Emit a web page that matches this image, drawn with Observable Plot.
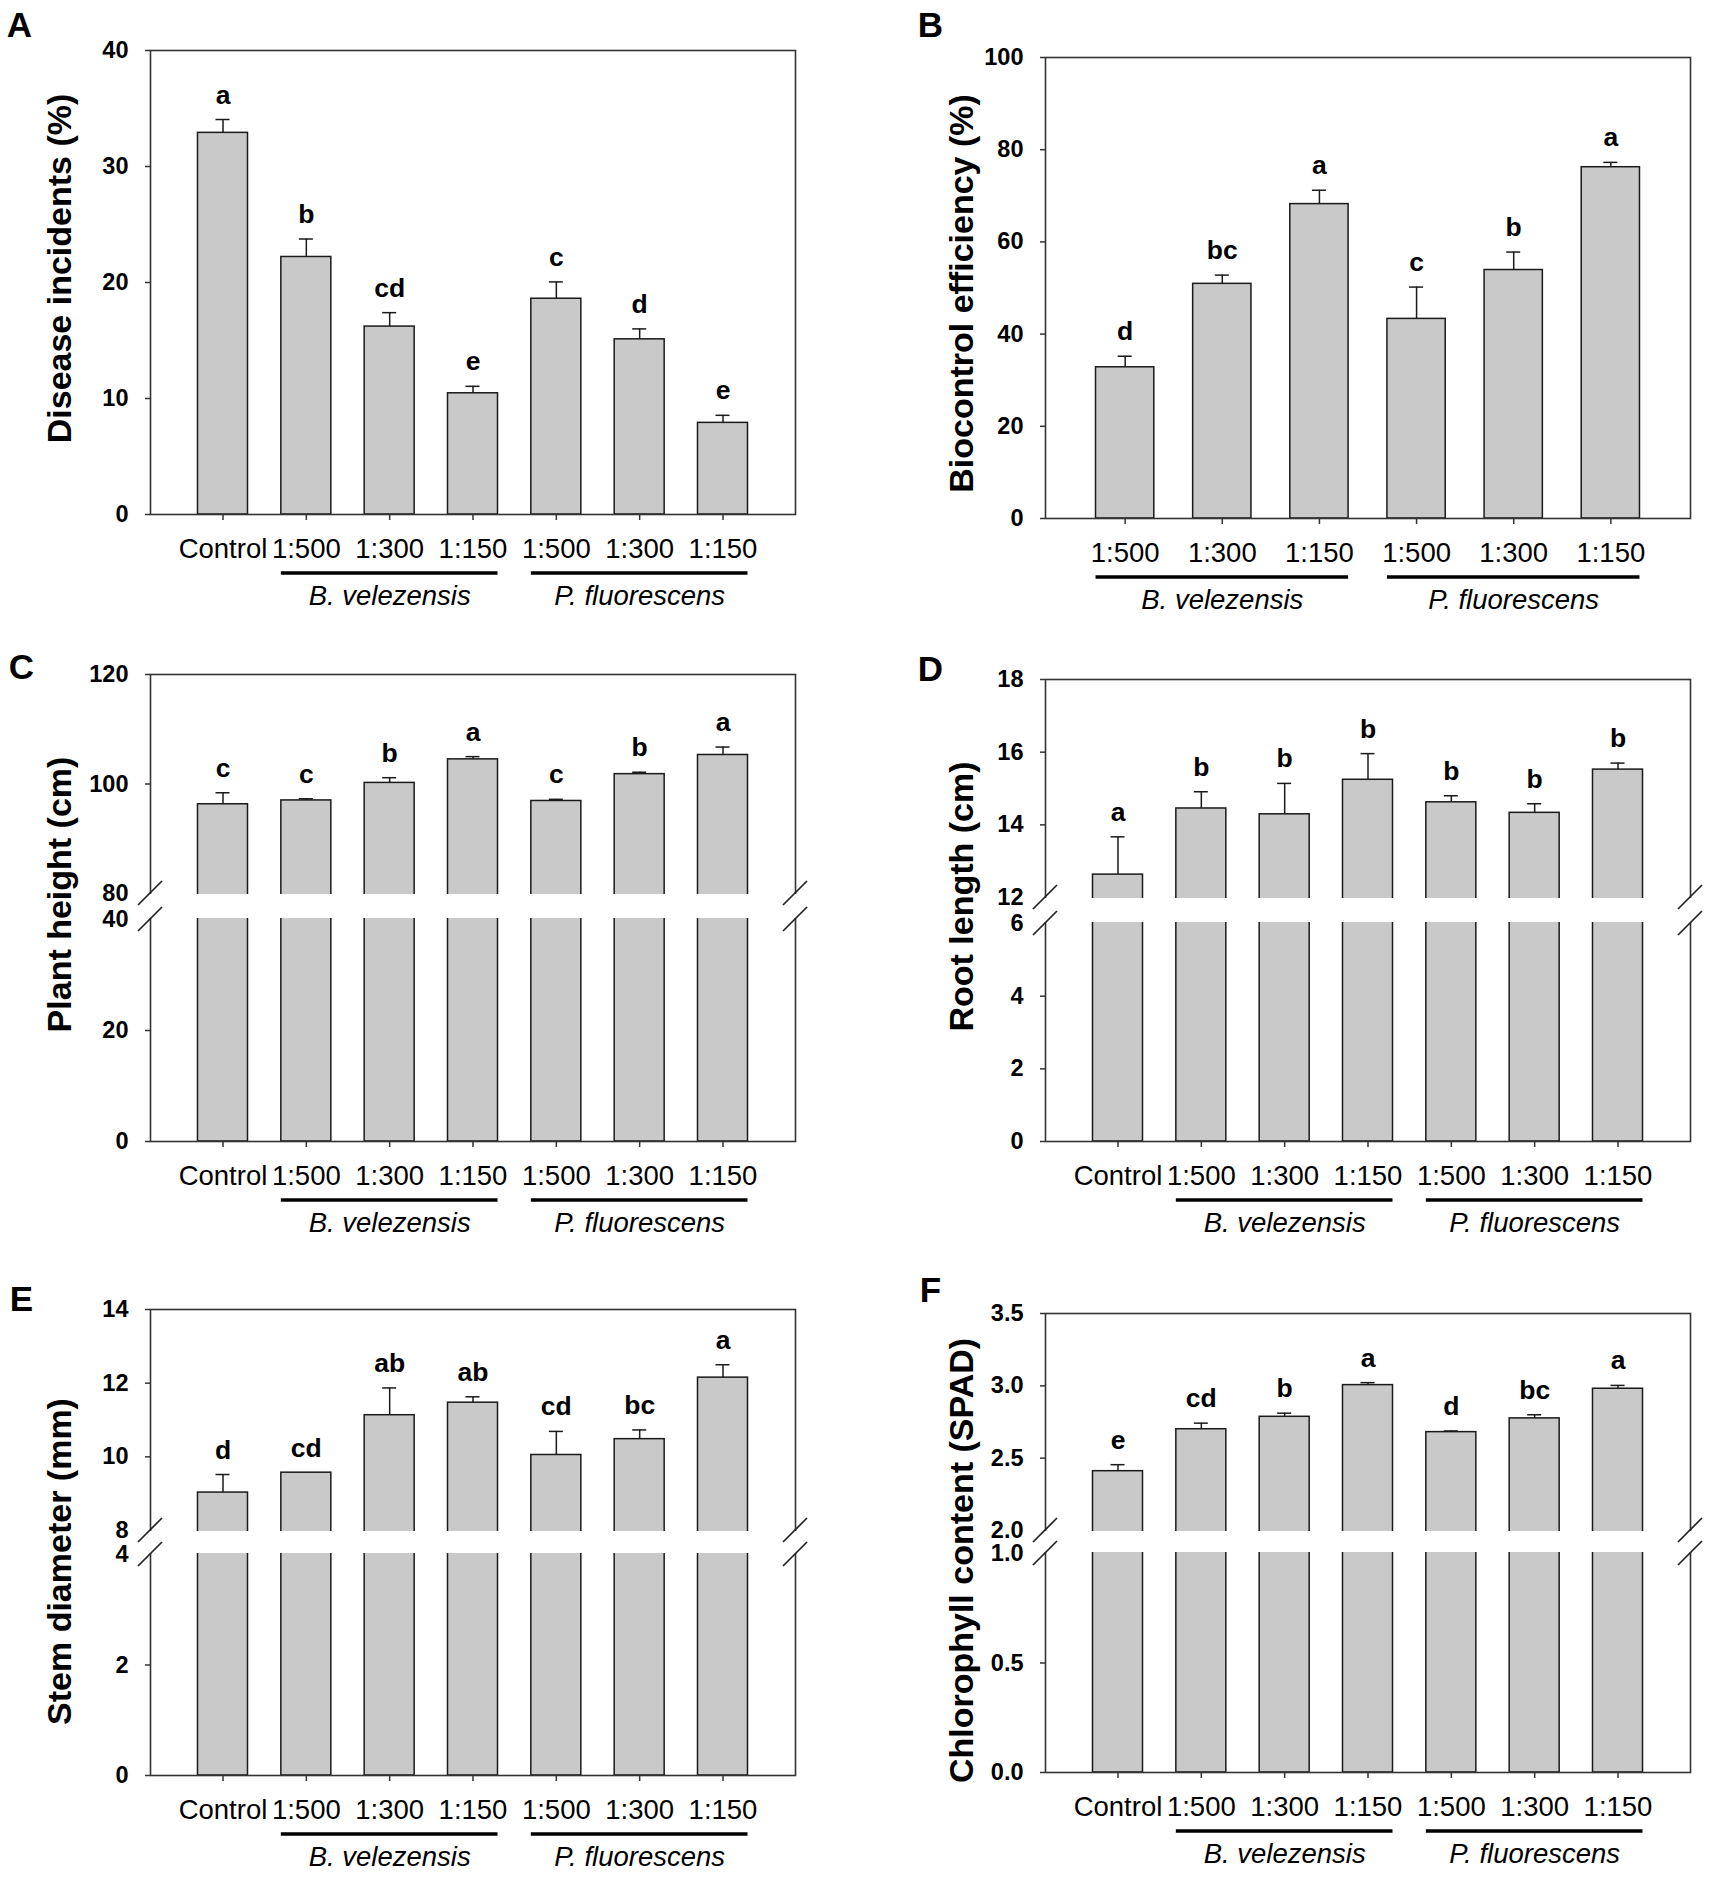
<!DOCTYPE html>
<html>
<head>
<meta charset="utf-8">
<script src="https://cdn.jsdelivr.net/npm/d3@7"></script>
<script src="https://cdn.jsdelivr.net/npm/@observablehq/plot@0.6"></script>
<style>
  body { margin: 0; background: #fff; }
  #root { position: relative; width: 1713px; height: 1887px; background: #fff; overflow: hidden; }
  #root svg { position: absolute; overflow: visible; }
</style>
</head>
<body>
<div id="root"></div>
<script>
// ---------- categories ----------
const categoryKeys = ["Control", "Bv 1:500", "Bv 1:300", "Bv 1:150", "Pf 1:500", "Pf 1:300", "Pf 1:150"];
const categoryLabels = ["Control", "1:500", "1:300", "1:150", "1:500", "1:300", "1:150"];
const groupNames = ["B. velezensis", "P. fluorescens"];
const groupFirst = ["Bv 1:500", "Pf 1:500"];
const groupMiddle = ["Bv 1:300", "Pf 1:300"];
const groupLast = ["Bv 1:150", "Pf 1:150"];

// ---------- A: disease incidents ----------
const incidenceMean = [32.9, 22.2, 16.2, 10.45, 18.6, 15.1, 7.9];
const incidenceErr = [1.15, 1.55, 1.2, 0.6, 1.45, 0.9, 0.65];
const incidenceLetters = ["a", "b", "cd", "e", "c", "d", "e"];
const incidenceTicks = [0, 10, 20, 30, 40];

// ---------- B: biocontrol efficiency ----------
const efficiencyMean = [32.8, 50.9, 68.2, 43.3, 53.9, 76.2];
const efficiencyErr = [2.4, 1.9, 3.0, 6.9, 3.9, 1.05];
const efficiencyLetters = ["d", "bc", "a", "c", "b", "a"];
const efficiencyTicks = [0, 20, 40, 60, 80, 100];

// ---------- C: plant height ----------
const heightMean = [96.3, 97.0, 100.2, 104.5, 96.9, 101.8, 105.3];
const heightErr = [2.1, 0.3, 0.95, 0.5, 0.3, 0.35, 1.45];
const heightLetters = ["c", "c", "b", "a", "c", "b", "a"];
const heightTicks = [0, 20, 40, 80, 100, 120];
const heightBreak = [40, 80];

// ---------- D: root length ----------
const rootMean = [12.63, 14.45, 14.29, 15.24, 14.62, 14.33, 15.52];
const rootErr = [1.04, 0.46, 0.85, 0.72, 0.18, 0.25, 0.18];
const rootLetters = ["a", "b", "b", "b", "b", "b", "b"];
const rootTicks = [0, 2, 4, 6, 12, 14, 16, 18];
const rootBreak = [6, 12];

// ---------- E: stem diameter ----------
const stemMean = [9.03, 9.57, 11.13, 11.47, 10.05, 10.48, 12.15];
const stemErr = [0.49, 0, 0.74, 0.16, 0.64, 0.25, 0.35];
const stemLetters = ["d", "cd", "ab", "ab", "cd", "bc", "a"];
const stemTicks = [0, 2, 4, 8, 10, 12, 14];
const stemBreak = [4, 8];

// ---------- F: chlorophyll content ----------
const chloroMean = [2.41, 2.70, 2.786, 3.005, 2.68, 2.775, 2.98];
const chloroErr = [0.045, 0.042, 0.025, 0.017, 0.008, 0.025, 0.023];
const chloroLetters = ["e", "cd", "b", "a", "d", "bc", "a"];
const chloroTicks = [0, 0.5, 1.0, 2.0, 2.5, 3.0, 3.5];
const chloroBreak = [1.0, 2.0];

// ---------- layout (page pixels) ----------
const layouts = {
  A: {svg: {x: 0, y: 0, w: 856, h: 625}, frame: {l: 150, r: 795, t: 50, b: 514}, pi: 0.40, po: 0.57, title: [60, 268], letter: [19, 25]},
  B: {svg: {x: 856, y: 0, w: 857, h: 625}, frame: {l: 1045, r: 1690, t: 57, b: 518}, pi: 0.40, po: 0.52, title: [962, 293], letter: [930, 25]},
  C: {svg: {x: 0, y: 625, w: 856, h: 630}, frame: {l: 150, r: 795, t: 674, b: 1141}, gap: [893, 919], pi: 0.40, po: 0.57, title: [60, 894], letter: [21, 667]},
  D: {svg: {x: 856, y: 625, w: 857, h: 630}, frame: {l: 1045, r: 1690, t: 679, b: 1141}, gap: [897, 923], pi: 0.40, po: 0.57, title: [962, 896], letter: [930, 669]},
  E: {svg: {x: 0, y: 1255, w: 856, h: 632}, frame: {l: 150, r: 795, t: 1309, b: 1775}, gap: [1530, 1554], pi: 0.40, po: 0.57, title: [60, 1561], letter: [21, 1299]},
  F: {svg: {x: 856, y: 1255, w: 857, h: 632}, frame: {l: 1045, r: 1690, t: 1313, b: 1772}, gap: [1530, 1553], pi: 0.40, po: 0.57, title: [962, 1560], letter: [930, 1290]}
};

const panels = [
  {id: "A", title: "Disease incidents (%)", keys: categoryKeys, mean: incidenceMean, err: incidenceErr, letters: incidenceLetters, ticks: incidenceTicks, domain: [0, 40], fmt: d3.format("d")},
  {id: "B", title: "Biocontrol efficiency (%)", keys: categoryKeys.slice(1), mean: efficiencyMean, err: efficiencyErr, letters: efficiencyLetters, ticks: efficiencyTicks, domain: [0, 100], fmt: d3.format("d")},
  {id: "C", title: "Plant height (cm)", keys: categoryKeys, mean: heightMean, err: heightErr, letters: heightLetters, ticks: heightTicks, domain: [0, 120], brk: heightBreak, fmt: d3.format("d")},
  {id: "D", title: "Root length (cm)", keys: categoryKeys, mean: rootMean, err: rootErr, letters: rootLetters, ticks: rootTicks, domain: [0, 18], brk: rootBreak, fmt: d3.format("d")},
  {id: "E", title: "Stem diameter (mm)", keys: categoryKeys, mean: stemMean, err: stemErr, letters: stemLetters, ticks: stemTicks, domain: [0, 14], brk: stemBreak, fmt: d3.format("d")},
  {id: "F", title: "Chlorophyll content (SPAD)", keys: categoryKeys, mean: chloroMean, err: chloroErr, letters: chloroLetters, ticks: chloroTicks, domain: [0, 3.5], brk: chloroBreak, fmt: d3.format(".1f")}
];

const labelOf = new Map(categoryKeys.map((k, i) => [k, categoryLabels[i]]));
const groups = groupNames.map((name, i) => ({name, first: groupFirst[i], mid: groupMiddle[i], last: groupLast[i]}));
const FONT = "'Liberation Sans', Arial, Helvetica, sans-serif";
const root = document.getElementById("root");

// Broken-axis position: lower segment kept as is, upper segment shifted down past a gap.
function makeBreakTransform(p, L) {
  if (!p.brk) return v => v;
  const [b0, b1] = p.brk;
  const [lo, hi] = p.domain;
  const lowerPx = L.frame.b - L.gap[1];
  const upperPx = L.gap[0] - L.frame.t;
  const gapPx = L.gap[1] - L.gap[0];
  const unitPx = lowerPx / (b0 - lo);
  const g = gapPx / unitPx;
  const kU = (upperPx / (hi - b1)) / unitPx;
  return v => v <= b0 ? v : (v >= b1 ? b0 + g + (v - b1) * kU : b0 + g * (v - b0) / (b1 - b0));
}

function makePanel(p) {
  const L = layouts[p.id];
  const tf = makeBreakTransform(p, L);
  const rows = p.keys.map((k, i) => ({k, m: tf(p.mean[i]), e: p.err[i], t: tf(p.mean[i] + p.err[i]), L: p.letters[i]}));
  const withErr = rows.filter(d => d.e > 0);
  const W = L.svg.w, H = L.svg.h;
  const mL = L.frame.l - L.svg.x, mR = L.svg.x + W - L.frame.r;
  const mT = L.frame.t - L.svg.y, mB = L.svg.y + H - L.frame.b;
  const n = p.keys.length;
  const frameW = L.frame.r - L.frame.l;
  const step = frameW / (n - L.pi + 2 * L.po);
  const bw = step * (1 - L.pi);
  const capInset = bw / 2 - 7;
  const tickPos = p.ticks.map(tf);
  const tickLabel = new Map(p.ticks.map(t => [tf(t), p.fmt(t)]));
  const tickMarkPos = p.ticks.filter(t => !(p.brk && p.brk.includes(t))).map(tf);

  const extras = (index, scales, values, dims) => {
    const g = d3.create("svg:g");
    const x0 = dims.marginLeft, x1 = dims.width - dims.marginRight;
    if (p.brk) {
      const ya = scales.y(tf(p.brk[0])), yb = scales.y(tf(p.brk[1]));
      g.append("rect").attr("x", x0 - 4).attr("y", yb + 1).attr("width", x1 - x0 + 8).attr("height", ya - yb - 2).attr("fill", "#fff");
      for (const xx of [x0, x1]) for (const yy of [ya, yb]) {
        g.append("line").attr("x1", xx - 12).attr("y1", yy + 12).attr("x2", xx + 12).attr("y2", yy - 12)
          .attr("stroke", "#222").attr("stroke-width", 1.7);
      }
    }
    const sx = scales.x;
    const bwid = typeof sx.bandwidth === "function" ? sx.bandwidth() : bw;
    const ly = dims.height - dims.marginBottom + 59;
    groups.forEach(gr => {
      g.append("line").attr("x1", sx(gr.first)).attr("x2", sx(gr.last) + bwid).attr("y1", ly).attr("y2", ly)
        .attr("stroke", "#000").attr("stroke-width", 3.5);
    });
    return g.node();
  };

  const svg = Plot.plot({
    width: W, height: H,
    marginLeft: mL, marginRight: mR, marginTop: mT, marginBottom: mB,
    style: {background: "transparent", fontFamily: FONT, overflow: "visible", color: "#000"},
    x: {type: "band", domain: p.keys, paddingInner: L.pi, paddingOuter: L.po, align: 0.5, round: false},
    y: {type: "linear", domain: [tf(p.domain[0]), tf(p.domain[1])]},
    marks: [
      Plot.barY(rows, {x: "k", y: "m", fill: "#c9c9c9", stroke: "#1a1a1a", strokeWidth: 1.5}),
      Plot.ruleX(withErr, {x: "k", y1: "m", y2: "t", stroke: "#1a1a1a", strokeWidth: 1.5}),
      Plot.tickY(withErr, {x: "k", y: "t", insetLeft: capInset, insetRight: capInset, stroke: "#1a1a1a", strokeWidth: 1.5}),
      Plot.frame({stroke: "#333", strokeWidth: 1.6}),
      extras,
      Plot.text(rows, {x: "k", y: "t", text: "L", lineAnchor: "bottom", dy: -16, fontSize: 26.5, fontWeight: "bold", fill: "#000"}),
      Plot.axisY(tickMarkPos, {tickSize: 5, tickFormat: () => "", label: null, stroke: "#333", strokeWidth: 1.5}),
      Plot.axisY(tickPos, {tickSize: 0, tickPadding: 22, fontSize: 23.5, fontWeight: "bold", tickFormat: v => tickLabel.get(v), label: null, fill: "#000"}),
      Plot.axisX({tickSize: 6, tickPadding: 18, fontSize: 27.5, tickFormat: k => labelOf.get(k), label: null, stroke: "#333", strokeWidth: 1.5, fill: "#000"}),
      Plot.text(groups, {x: "mid", text: "name", frameAnchor: "bottom", dy: 82, lineAnchor: "middle", fontSize: 27.5, fontStyle: "italic", fill: "#000"}),
      Plot.text([p.title], {text: d => d, frameAnchor: "top-left", dx: L.title[0] - L.frame.l, dy: L.title[1] - L.frame.t, rotate: -90, textAnchor: "middle", lineAnchor: "middle", fontSize: 34, fontWeight: "bold", fill: "#000"}),
      Plot.text([p.id], {text: d => d, frameAnchor: "top-left", dx: L.letter[0] - L.frame.l, dy: L.letter[1] - L.frame.t, textAnchor: "middle", lineAnchor: "middle", fontSize: 35, fontWeight: "bold", fill: "#000"})
    ]
  });
  svg.style.position = "absolute";
  svg.style.left = L.svg.x + "px";
  svg.style.top = L.svg.y + "px";
  svg.style.maxWidth = "none";
  root.appendChild(svg);
}

panels.forEach(makePanel);
</script>
</body>
</html>
